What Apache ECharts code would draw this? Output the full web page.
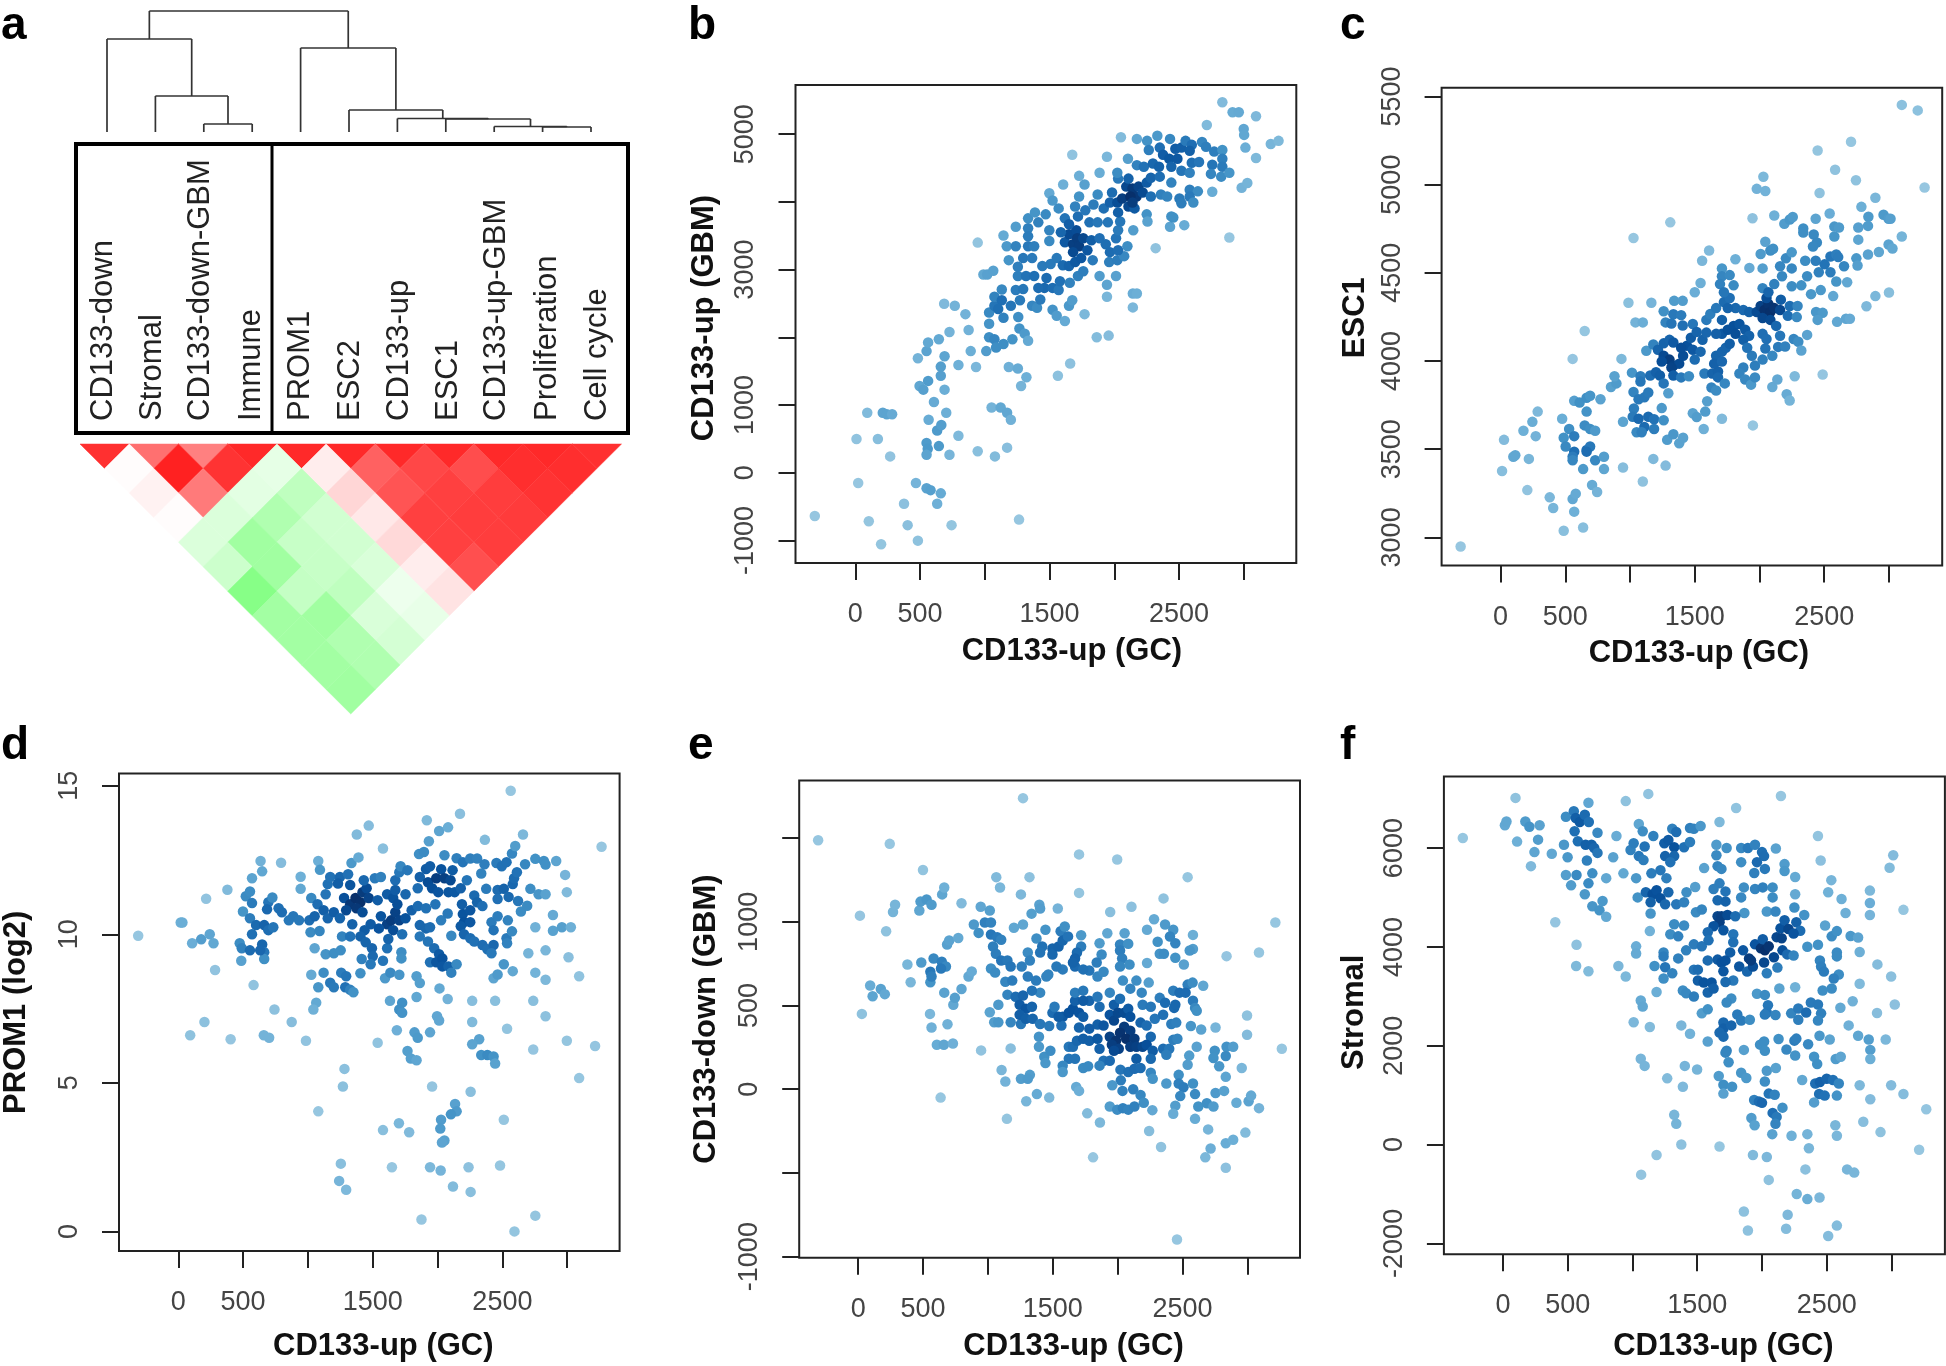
<!DOCTYPE html>
<html><head><meta charset="utf-8">
<style>html,body{margin:0;padding:0;background:#fff}#c{width:1946px;height:1366px}</style>
<script src="https://cdn.jsdelivr.net/npm/echarts@6/dist/echarts.min.js"></script>
</head><body><div id="c"></div>
<script>
const signatures=['CD133-down','Stromal','CD133-down-GBM','Immune','PROM1','ESC2','CD133-up','ESC1','CD133-up-GBM','Proliferation','Cell cycle'];
// [left, right, height]; negative numbers refer to earlier merges (-1 = first merge)
const merges=[[2,3,8],[1,-1,36],[0,-2,93],[9,10,5],[8,-4,5.5],[7,-5,13],[6,-6,13.5],[5,-7,22],[4,-8,84],[-3,-9,121]];
const corrRows=[
[.81,.56,.5,.84,.84,.84,.84,.84,.84,.84,.81],
[.01,.87,.8,-.1,.07,.62,.72,.7,.82,.82],
[.05,.52,-.11,-.25,.16,.67,.75,.76,.8],
[.01,-.14,-.31,-.18,.09,.75,.76,.77],
[-.14,-.37,-.22,-.18,.15,.75,.76],
[-.2,-.37,-.22,-.15,.07,.69],
[-.47,-.23,-.25,-.07,.11],
[-.36,-.37,-.15,-.09],
[-.36,-.31,-.17],
[-.36,-.31],
[-.37]];
const xTicks=[0,500,1000,1500,2000,2500,3000];
const xLabels=[0,500,1500,2500];
const gbmUp=[[-313,-640],[22,-153],[9,499],[174,499],[269,241],[92,886],[212,886],[243,863],[284,863],[104,-716],[199,-1057],[376,-458],[404,-775],[468,-153],[483,-1004],[550,-229],[581,-258],[660,-305],[632,-458],[743,-775],[1264,-693],[550,440],[559,352],[550,264],[645,393],[727,264],[566,781],[632,622],[664,704],[702,886],[607,1045],[796,546],[945,317],[1078,241],[1172,370],[1052,963],[1122,963],[1172,886],[1201,781],[496,1280],[525,1227],[562,1356],[689,1227],[660,1432],[660,1567],[689,1720],[796,1591],[932,1561],[891,1796],[483,1691],[550,1796],[562,1925],[645,1972],[727,2078],[875,2107],[850,2342],[686,2495],[768,2465],[1185,1561],[1255,1538],[1321,1409],[1280,1280],[1564,1432],[1659,1614],[1011,1796],[1033,2002],[1074,1972],[1087,1849],[1144,1902],[1213,1972],[1267,2131],[1308,2054],[1334,1949],[1864,2002],[1956,2025],[1033,2366],[1033,2201],[1074,2465],[1074,2600],[1131,2706],[1131,2548],[1103,2418],[1144,2289],[1201,2465],[1258,2301],[1239,2700],[1296,2712],[1271,2548],[1365,2465],[1403,2436],[1428,2559],[1523,2407],[1555,2319],[1618,2242],[1650,2465],[1675,2548],[1770,2342],[1943,2600],[1943,2777],[2143,2647],[2174,2647],[2143,2442],[1886,2906],[2013,2906],[2319,3317],[2888,3475],[2540,3657],[2430,3634],[2440,3786],[945,3399],[989,2929],[1018,2929],[1065,2982],[1144,3504],[1185,3140],[1169,3346],[1239,3346],[1239,3634],[1334,3757],[1334,3610],[1334,3493],[1334,3346],[1381,3346],[1387,3845],[1413,3698],[1470,3816],[1498,3581],[1498,3422],[1255,3041],[1296,3170],[1365,3170],[1255,2906],[1318,2906],[1381,2906],[1444,3052],[1508,3082],[1555,3170],[1602,3064],[1650,3052],[1697,3111],[1744,3170],[1476,2876],[1460,2730],[1413,2730],[1523,2730],[1570,2700],[1580,2829],[1656,2806],[1719,2906],[1760,2976],[1833,3140],[1618,3405],[1650,3522],[1681,3375],[1706,3581],[1713,3463],[1728,3346],[1681,3258],[1760,3463],[1792,3287],[1823,3434],[1886,3463],[1934,3375],[1966,3258],[1960,3111],[2023,3140],[2076,3199],[2029,3287],[2101,3346],[2013,3463],[2029,3581],[2045,3710],[2146,3581],[1618,3757],[1650,3669],[1587,3552],[1697,3933],[1728,4080],[1719,3786],[1776,3875],[1808,3698],[1871,3698],[1950,3698],[1839,3962],[1871,4109],[1918,3904],[1966,3992],[1982,4138],[2023,3992],[2029,3845],[2061,4050],[2109,3933],[2156,3904],[2092,4226],[2029,4344],[2023,4432],[2109,4344],[2140,4197],[2171,4080],[2187,4226],[2219,4138],[2250,4285],[2282,4080],[2282,4356],[2124,4080],[2140,3992],[1498,4127],[1523,4021],[1570,3904],[1605,4256],[1675,4696],[1728,4385],[1770,4256],[1886,4432],[1943,4667],[2051,4954],[2105,4637],[2174,4931],[2253,4902],[2266,4766],[2332,4978],[2351,4802],[2430,4931],[2174,4543],[2228,4520],[2298,4567],[2345,4520],[2351,4373],[2440,4285],[2360,4109],[2408,4080],[2250,3816],[2256,3710],[2455,3769],[2376,4696],[2424,4637],[2471,4784],[2518,4802],[2487,4637],[2440,4520],[2518,4461],[2582,4432],[2598,4579],[2550,4902],[2598,4843],[2582,4755],[2654,4590],[2677,4884],[2708,4813],[2771,4743],[2834,4766],[2834,4637],[2834,4520],[2756,4549],[2746,4414],[2825,4373],[2888,4432],[2582,4179],[2645,4156],[2503,4050],[2518,3980],[2582,4080],[2610,3992],[2756,4150],[2983,4209],[3027,4279],[2714,5136],[2834,5471],[2913,5324],[2961,5324],[3094,5265],[2999,5078],[3002,4990],[3012,4802],[3094,4649],[3208,4855],[3268,4902]];
const esc1=[[-308,2948],[12,3376],[27,3553],[99,3457],[114,3466],[177,3605],[246,3655],[272,3574],[287,3713],[219,3445],[207,3268],[380,3227],[407,3167],[476,3673],[488,3038],[638,3056],[569,3146],[557,3218],[581,3248],[707,3297],[746,3257],[638,3387],[731,3437],[799,3387],[799,3457],[946,3396],[1180,3445],[1275,3407],[1099,3317],[488,3565],[503,3515],[530,3614],[569,3574],[569,3486],[557,3457],[557,3437],[665,3495],[692,3515],[665,3486],[650,3635],[692,3614],[731,3605],[665,3713],[569,3774],[611,3765],[665,3792],[692,3803],[772,3783],[557,4012],[650,4170],[1027,4697],[1311,4786],[988,4330],[1165,4330],[1042,4219],[1099,4219],[934,4012],[853,3853],[895,3873],[880,3914],[1015,3934],[1081,3914],[1081,3884],[1027,3824],[1066,3783],[1111,3794],[1141,3821],[1030,3731],[946,3655],[1021,3684],[1066,3673],[1141,3684],[1186,3670],[1245,3733],[1260,3664],[1111,3626],[1186,3614],[1051,3596],[1090,3596],[1287,3553],[1335,3585],[1380,3533],[1410,3565],[1156,3918],[1201,3936],[1231,3918],[1260,3873],[1296,3817],[1260,4282],[1341,4341],[1407,4341],[1335,4265],[1395,4260],[1275,4219],[1320,4213],[1407,4201],[1126,4058],[1180,4094],[1216,4064],[1260,4100],[1305,4120],[1335,4105],[1260,4030],[1305,4008],[1335,3974],[1380,3985],[1410,4030],[1440,4087],[1470,4132],[1485,4064],[1395,4075],[1320,3963],[1335,3918],[1395,3907],[1455,3914],[1245,3997],[1500,4008],[1485,4210],[1515,4165],[1560,4120],[1590,4161],[1545,4053],[1575,3929],[1635,3929],[1680,3941],[1680,3907],[1732,3873],[1629,3850],[1665,3833],[1596,3772],[1485,3704],[1515,3682],[1581,3713],[1569,3614],[1710,3673],[1949,3635],[1665,4030],[1710,4053],[1740,4075],[1770,4098],[1650,3985],[1710,3997],[1590,4233],[1620,4267],[1665,4300],[1710,4233],[1710,4154],[1665,4154],[1755,4177],[1800,4199],[1845,4210],[1890,4177],[1920,4143],[1875,4120],[1815,4154],[1725,4334],[1770,4357],[1815,4300],[1875,4289],[1920,4278],[1755,4300],[1875,3963],[1845,3929],[1890,3895],[1935,3866],[1965,3907],[1965,3974],[1941,4030],[1905,4075],[2024,4008],[2099,4030],[2045,4071],[2024,4154],[2054,4125],[2144,4080],[2198,4082],[2264,4125],[2300,4109],[2323,4060],[2368,4148],[2099,3853],[2138,3895],[2272,3914],[2210,3812],[2233,3776],[2488,3923],[1979,4278],[2009,4312],[2039,4289],[2069,4323],[2084,4278],[2054,4357],[2114,4300],[2165,4348],[2024,4244],[2084,4233],[2159,4289],[2129,4199],[2159,4143],[2024,4413],[2069,4390],[2024,4525],[2009,4607],[2045,4676],[2084,4627],[2105,4636],[1922,4528],[1814,4577],[1557,4568],[1611,4627],[1545,4442],[1500,4390],[1710,4525],[1710,4481],[1770,4487],[1695,4436],[1800,4429],[1725,4390],[2114,4436],[2159,4537],[2174,4481],[2249,4525],[2204,4582],[2249,4616],[2249,4424],[2323,4429],[2368,4481],[2353,4568],[2398,4379],[2473,4402],[2434,4568],[2458,4503],[2548,4503],[2503,4548],[2548,4593],[2593,4604],[2608,4589],[2653,4537],[2593,4451],[2677,4447],[2569,4368],[2234,4312],[2294,4312],[2219,4256],[2288,4249],[2437,4278],[2488,4273],[2449,4233],[2599,4222],[2668,4240],[2698,4240],[1946,4809],[1979,4976],[2045,4964],[2030,5045],[2114,4825],[2192,4778],[2234,4802],[2257,4816],[2338,4751],[2338,4728],[2434,4807],[2419,4717],[2443,4672],[2413,4649],[2464,4953],[2449,5194],[2584,5084],[2542,4836],[2578,4762],[2614,4757],[2578,4706],[2707,5243],[2745,5025],[2787,4874],[2841,4818],[2838,4766],[2763,4757],[2763,4688],[2748,4582],[2757,4541],[2838,4604],[2922,4618],[2895,4926],[2958,4829],[2997,4807],[3012,4807],[2997,4661],[3027,4638],[3099,4706],[2895,4368],[2826,4310],[3000,4388],[3099,5452],[3222,5421],[3275,4984]];
const prom1=[[-309,9.95],[19,10.4],[32,10.4],[107,9.7],[177,9.83],[243,10.0],[272,9.7],[215,11.2],[379,11.5],[284,8.8],[92,6.6],[202,7.05],[404,6.47],[660,6.6],[701,6.52],[742,7.47],[875,7.05],[985,6.42],[581,8.29],[474,9.7],[486,9.11],[490,9.53],[553,9.46],[569,10.0],[647,9.66],[663,9.4],[663,9.17],[632,9.46],[499,10.77],[553,10.54],[600,10.31],[663,10.31],[695,10.14],[733,10.24],[521,11.28],[553,11.44],[569,11.05],[569,11.89],[647,12.12],[635,12.47],[793,12.41],[695,11.08],[685,10.84],[726,11.24],[774,10.88],[799,10.74],[853,10.47],[887,10.61],[932,10.47],[944,11.94],[944,11.53],[1011,10.47],[1026,11.22],[1020,10.07],[1052,9.53],[1090,10.11],[1052,10.61],[1080,12.47],[1093,12.17],[1137,11.35],[1153,11.69],[1172,11.93],[1074,11.01],[1121,10.81],[1153,10.54],[1200,10.74],[1247,10.54],[1263,9.93],[1326,9.93],[1342,10.34],[1137,9.33],[1200,9.36],[1253,9.46],[1026,8.64],[1121,8.71],[1080,8.22],[1172,8.37],[1200,8.22],[1257,8.71],[1295,8.59],[1288,8.22],[1326,8.13],[1351,8.05],[1064,7.7],[1042,7.47],[1247,11.93],[1310,12.02],[1326,11.66],[1232,11.71],[1336,12.4],[1390,12.59],[1377,13.36],[1469,13.66],[1415,9.17],[1405,8.69],[1279,11.22],[1326,11.01],[1367,11.22],[1405,11.08],[1421,11.42],[1453,11.55],[1431,11.82],[1469,11.22],[1374,10.88],[1421,10.74],[1295,10.81],[1484,10.34],[1437,10.14],[1405,9.93],[1446,9.73],[1494,9.53],[1500,9.26],[1484,8.99],[1579,9.11],[1611,9.53],[1620,9.84],[1516,11.89],[1563,11.93],[1538,11.15],[1611,11.35],[1658,11.22],[1563,10.61],[1611,10.34],[1658,10.14],[1547,10.2],[1642,10.47],[1674,10.74],[1690,11.01],[1674,11.49],[1674,11.82],[1705,12.09],[1715,12.29],[1768,12.16],[1753,11.35],[1705,10.47],[1753,10.54],[1800,10.81],[1848,10.95],[1911,10.88],[1727,10.0],[1595,8.52],[1636,8.71],[1705,8.64],[1721,9.4],[1721,9.19],[1863,9.93],[1863,10.31],[1911,10.2],[1942,10.24],[1847,11.55],[1863,11.93],[1911,12.2],[1942,12.29],[1857,12.7],[1895,12.77],[1933,13.13],[1917,13.84],[2012,13.48],[2081,13.6],[2053,12.66],[2173,14.06],[2028,12.19],[1579,12.89],[1926,11.75],[1958,11.55],[1990,11.89],[2053,11.89],[2005,11.42],[2100,11.82],[2116,12.16],[2084,11.42],[2132,11.42],[2179,11.55],[2226,11.82],[2147,12.56],[2195,12.43],[2252,12.55],[2305,12.55],[2362,12.36],[2337,12.05],[2375,11.53],[2283,11.31],[2305,11.08],[2346,10.95],[1983,11.01],[2027,10.47],[2078,10.7],[2106,9.95],[2188,11.01],[2195,10.68],[2252,10.81],[2204,10.41],[2252,10.41],[2179,10.27],[2204,10.0],[2252,9.87],[2283,9.76],[2346,9.64],[2384,9.5],[2432,9.64],[2416,9.36],[1926,9.76],[1974,9.53],[2012,9.33],[1942,9.06],[1990,9.06],[2037,9.19],[2037,8.92],[2084,8.92],[2147,8.99],[2106,8.71],[2015,8.18],[2078,7.82],[1838,7.89],[1838,8.59],[1863,8.36],[1633,7.76],[1727,7.7],[1705,7.47],[1727,7.36],[1996,7.24],[2012,7.1],[2267,7.76],[2444,7.76],[2738,7.76],[2833,7.24],[2267,7.05],[1686,6.77],[1822,6.7],[1847,6.52],[1942,6.7],[2536,6.82],[1538,6.35],[2321,6.47],[2267,6.3],[2337,5.94],[2384,5.94],[2432,5.89],[2444,5.65],[1768,6.07],[1794,5.82],[1838,5.76],[2738,6.12],[2997,6.42],[3215,6.24],[3092,5.16],[1958,4.88],[2255,4.7],[2135,4.29],[2147,4.04],[2103,3.94],[2027,3.76],[2021,3.46],[2511,3.76],[2053,3.06],[2034,2.99],[1579,3.41],[1702,3.64],[1781,3.34],[1080,4.04],[1282,5.47],[1270,4.88],[1254,2.28],[1241,1.7],[1295,1.4],[1648,2.16],[1942,2.16],[2024,2.05],[2239,2.16],[2482,2.22],[2119,1.51],[2255,1.33],[1876,.4],[2754,.53],[2593,0],[2463,11.49],[2463,11.19],[2511,11.53],[2454,12.4],[2495,12.29],[2532,12.43],[2416,10.41],[2463,10.61],[2432,10.14],[2542,10.47],[2532,9.87],[2536,9.7],[2574,10.1],[2548,11.26],[2621,11.12],[2580,11.69],[2590,11.89],[2612,12.09],[2574,12.72],[2599,12.97],[2659,13.36],[2564,14.83],[2365,13.18],[2675,12.36],[2754,12.54],[2820,12.47],[2833,12.35],[2915,12.47],[2984,12.0],[2716,11.53],[2779,11.35],[2833,11.35],[2997,11.42],[2643,10.77],[2691,10.96],[2890,10.65],[2754,10.24],[2890,10.12],[2959,10.24],[3028,10.24],[2700,9.36],[2833,9.46],[3010,9.23],[2511,8.99],[2580,8.76],[2754,8.71],[2833,8.47],[3092,8.59],[2432,8.52],[2463,8.65],[3265,12.95]];
const gbmDown=[[-309,1487],[243,1466],[1270,1739],[499,1310],[13,1037],[28,450],[92,620],[111,556],[174,599],[205,568],[215,944],[268,1059],[284,1102],[379,745],[404,639],[471,1068],[480,1121],[527,1133],[565,1102],[647,1164],[663,1205],[486,757],[556,702],[556,639],[565,673],[581,781],[644,762],[676,733],[638,721],[553,450],[565,369],[688,388],[606,266],[660,266],[730,273],[663,577],[733,505],[745,546],[796,599],[635,-50],[685,865],[701,889],[771,903],[796,1111],[850,673],[875,704],[891,984],[928,934],[944,1090],[947,232],[976,996],[1023,996],[1014,1068],[1014,460],[1048,400],[1080,400],[1080,505],[1175,400],[1254,390],[1175,244],[1105,115],[1134,46],[1254,62],[1323,86],[1307,62],[1146,-177],[1295,-72],[1377,-29],[1472,-50],[1064,1267],[1320,1267],[1093,1205],[1254,1164],[1336,1049],[1396,1102],[1402,1080],[1538,1080],[1200,965],[1270,984],[1443,953],[1374,901],[1023,924],[1071,908],[1102,893],[1039,853],[1061,809],[1102,769],[1150,769],[1175,733],[1023,721],[1055,697],[1260,733],[1307,673],[1371,649],[1402,577],[1339,589],[1450,673],[1465,685],[1134,642],[1187,649],[1150,565],[1213,553],[1270,560],[1307,817],[1323,769],[1418,853],[1402,817],[1244,505],[1292,481],[1339,493],[1244,445],[1292,421],[1345,421],[1402,390],[1472,378],[1393,314],[1393,254],[1434,194],[1443,156],[1481,230],[1497,457],[1513,493],[1576,433],[1566,381],[1544,433],[1623,457],[1655,481],[1671,529],[1671,577],[1734,589],[1781,529],[1734,529],[1702,457],[1734,433],[1702,369],[1860,493],[1844,553],[1939,577],[1497,841],[1497,805],[1544,853],[1560,944],[1576,889],[1592,972],[1617,913],[1718,920],[1718,853],[1686,817],[1671,781],[1671,733],[1655,757],[1576,716],[1528,733],[1702,1403],[1996,1372],[1702,1173],[2539,1267],[2353,1140],[2106,1090],[1942,1059],[1920,932],[1860,872],[1876,805],[1838,757],[1781,709],[1734,716],[1844,673],[1891,702],[2018,865],[2081,869],[2018,829],[2034,781],[2018,733],[2091,745],[2053,932],[2226,953],[2280,1015],[2365,984],[2428,953],[2403,912],[2444,872],[2308,881],[2324,809],[2356,809],[2444,786],[2226,754],[2510,745],[2580,922],[2580,838],[2555,829],[2040,649],[2097,601],[2144,649],[2185,577],[2239,637],[2659,618],[2428,589],[2476,577],[2539,625],[2523,577],[2577,637],[2324,546],[2365,517],[2580,529],[2596,486],[2609,469],[2435,486],[2444,505],[2192,505],[2255,493],[2286,421],[2350,445],[2176,398],[2223,381],[2413,390],[2451,398],[2564,378],[2643,357],[2754,369],[2997,441],[2997,326],[3265,242],[1971,505],[2018,541],[1939,445],[1971,410],[2002,457],[2050,457],[2081,481],[2097,433],[2050,374],[2097,350],[2018,338],[1939,314],[1987,290],[1955,266],[2008,242],[1971,230],[2065,302],[2129,302],[2097,254],[2144,254],[2192,254],[2255,314],[2223,266],[2270,230],[2255,182],[2144,182],[1844,386],[1781,362],[1891,381],[1623,254],[1655,254],[1686,290],[1734,302],[1781,290],[1844,302],[1860,242],[1891,170],[1860,141],[1939,170],[1623,182],[1671,182],[1576,141],[1576,103],[1734,127],[1772,137],[1680,14],[1702,-10],[1765,-144],[1863,-199],[1810,-407],[2021,117],[2081,103],[2129,122],[2176,127],[2024,53],[1958,24],[2037,-10],[2119,0],[2176,-34],[2201,-81],[1939,-103],[1996,-122],[2040,-113],[2081,-122],[2129,-103],[2267,-125],[2255,98],[2270,62],[2375,34],[2350,242],[2397,242],[2375,206],[2428,295],[2460,302],[2470,86],[2470,34],[2507,12],[2580,34],[2482,-41],[2596,-29],[2444,-98],[2428,-146],[2242,-249],[2334,-345],[2596,-177],[2621,-103],[2687,-84],[2738,-103],[2697,-240],[2675,-407],[2716,-354],[2833,-323],[2890,-302],[2984,-259],[2833,-469],[2457,-898],[2539,146],[2551,201],[2609,254],[2748,230],[2738,187],[2782,137],[2833,74],[2839,254],[2833,199],[2890,254],[2956,127],[2754,-22],[2820,-10],[2915,-81],[3009,-72],[3028,-38],[3089,-113],[2839,795],[3089,817],[3215,996]];
const stromal=[[-310,6204],[97,7016],[15,6464],[27,6537],[109,6131],[173,6537],[204,6431],[283,6464],[271,6171],[243,5919],[216,5635],[377,5887],[404,4498],[568,4044],[565,3613],[660,3508],[486,6634],[547,6748],[562,6610],[593,6528],[632,6675],[663,6528],[553,6342],[660,6918],[471,6066],[499,5814],[578,6139],[638,6066],[684,6066],[705,6001],[730,5903],[730,6309],[648,5749],[486,5457],[568,5457],[690,5489],[526,5246],[660,5286],[632,5067],[797,5392],[690,4823],[745,4742],[769,4929],[797,4612],[851,5814],[876,6244],[930,5489],[948,6951],[1122,7097],[891,3613],[948,3402],[985,5960],[1009,6098],[1049,6488],[1079,6342],[1094,6033],[1049,5838],[1085,5757],[1161,6244],[1028,5392],[1040,5002],[1146,5489],[1216,5554],[1262,5392],[1246,6098],[1277,6163],[1307,6390],[1338,6326],[1322,6017],[1252,5838],[1322,5838],[1292,5716],[1398,6017],[1444,6122],[1444,6407],[1474,6390],[1526,6447],[1103,5107],[1155,5067],[1186,5148],[1216,4986],[1277,5107],[1140,4904],[1140,4677],[1252,4864],[1338,4864],[1398,4904],[1417,5107],[1134,4320],[1484,5213],[1322,4458],[1292,4255],[1353,4214],[1398,4434],[1028,4011],[1028,3865],[1240,3889],[1240,3808],[1170,3613],[1252,3589],[1240,3362],[1307,3467],[1186,3086],[1353,3768],[1414,3930],[1474,4052],[1535,4011],[1581,3727],[1474,3540],[1505,3540],[1389,3118],[1414,3061],[1474,2996],[1505,3321],[1550,3280],[1611,3280],[1581,3078],[1626,3159],[1490,4701],[1535,4758],[1553,5595],[1648,6066],[1727,6001],[1648,5855],[1672,6529],[1657,5635],[1687,5579],[1839,6001],[1891,6001],[1946,6066],[2000,5919],[2016,5838],[2107,5993],[1839,5716],[1961,5716],[1940,5497],[2022,5579],[2174,5676],[2174,5538],[2256,5416],[1800,6812],[2146,7056],[2432,6244],[2453,5749],[3013,5855],[2985,5603],[2535,5351],[2511,5107],[2614,4970],[2833,5140],[2833,4888],[2833,4645],[3092,4750],[2645,4685],[1672,5286],[1626,5172],[1657,4945],[1718,5124],[1718,4921],[1839,5002],[1860,5205],[1946,5172],[2006,5205],[2082,5205],[2082,5002],[2256,5067],[2250,4799],[2037,4718],[2104,4718],[1864,4685],[2326,4645],[1657,4620],[1687,4620],[1733,4645],[1794,4620],[1672,4498],[1626,4417],[1581,4296],[1587,4133],[1702,4336],[1778,4255],[1778,4093],[1754,3889],[1657,3743],[1687,3686],[1718,3727],[1702,3508],[1824,3605],[1885,3500],[1854,3930],[1900,3768],[1930,3605],[1915,3727],[1946,4052],[1991,3971],[2022,3930],[2006,4157],[2052,4011],[2016,3686],[2037,3467],[2092,3792],[2158,3930],[2119,3581],[2195,3849],[2244,3825],[2113,4198],[2143,4377],[2174,4539],[2204,4361],[2152,4174],[2265,4498],[2295,4328],[2244,4271],[2350,4003],[2432,4044],[2487,4434],[2538,4214],[2578,4320],[2684,4222],[2742,4190],[2754,3898],[2578,3889],[2578,3808],[2447,3727],[2456,3605],[2478,3500],[2891,3646],[2997,3402],[2593,3443],[2554,3362],[2538,3159],[2468,3118],[2754,3256],[2700,2899],[2605,2769],[3025,2834],[2888,2663],[2669,2412],[2742,2201],[2134,3159],[2256,3183],[1961,3053],[2022,3029],[1778,3321],[1718,3289],[1763,2956],[1727,2875],[2046,2818],[2037,2672],[2022,2631],[2104,2623],[2225,2655],[2280,2753],[2280,2525],[2341,2672],[2377,2875],[2432,2834],[2456,2655],[2432,2509],[1535,2655],[1581,2736],[1064,2915],[1079,2793],[1009,2477],[1134,2379],[1377,2412],[1444,2241],[1581,2087],[1702,2469],[1702,2347],[1672,2266],[1702,2184],[1763,2412],[1809,2631],[1839,2509],[1906,2525],[1727,1900],[1718,1860],[1860,1916],[1742,1665],[1985,2022],[2016,2087],[2022,1900],[2128,2136],[2250,2103],[2265,2144],[2189,1924],[2256,1803],[2356,2030],[2444,2201],[2523,2127],[2402,1778],[2426,1632],[2569,1730],[2608,1778],[2824,2127],[2955,2127],[2836,1916],[2836,1730],[1064,1738],[1094,1592],[1404,1592],[1499,1518],[1268,1340],[1389,1169],[1666,1389],[1702,1210],[1702,1031],[1769,1169],[1839,1454],[1879,1348],[2037,1494],[2107,1551],[2022,1275],[2310,1307],[2411,1234],[2447,1267],[2499,1332],[2548,1307],[2593,1234],[2441,1023],[2484,991],[2578,991],[2754,1202],[2997,1202],[2836,918],[3092,1023],[2402,853],[1939,901],[1976,869],[2000,844],[2052,1031],[2098,1007],[2158,747],[2082,641],[2113,560],[2104,422],[1918,536],[1943,390],[2079,211],[2228,179],[2350,211],[2566,390],[2578,179],[2782,463],[2915,252],[3268,715],[1322,601],[1338,422],[1377,0],[1672,-41],[3213,-106],[2362,-73],[1930,-211],[2037,-252],[1186,-211],[1067,-609],[2335,-503],[2052,-715],[2657,-503],[2712,-568],[2268,-999],[2350,-1104],[2444,-1072],[1860,-1356],[2198,-1421],[1891,-1738],[2186,-1705],[2578,-1640],[2511,-1851]];

const FONT='"Liberation Sans",Arial,sans-serif';
const RAMP=[[150,198,224],[107,174,214],[66,146,198],[33,113,181],[8,81,156],[8,48,107]];
function densityColors(pts,pxX,pxY){
  const s2=2*11*11;
  const d=pts.map(p=>pts.reduce((a,q)=>{const dx=(p[0]-q[0])*pxX,dy=(p[1]-q[1])*pxY;return a+Math.exp(-(dx*dx+dy*dy)/s2);},0));
  const mx=Math.max(...d),mn=Math.min(...d);
  return d.map(v=>{
    const t=Math.pow((v-mn)/(mx-mn),.95)*(RAMP.length-1),i=Math.min(Math.floor(t),RAMP.length-2),f=t-i;
    const c=RAMP[i].map((a,k)=>Math.round(a+(RAMP[i+1][k]-a)*f));
    return `rgb(${c[0]},${c[1]},${c[2]})`;
  });
}
// frame [left,top,right,bottom], x range, y range, y ticks, y labels
const panels=[
{d:gbmUp,name:'CD133-up (GBM)',f:[795.5,85,1296.3,563],xr:[-462,3405],yr:[-1334,5727],yt:[-1000,0,1000,2000,3000,4000,5000],yl:[-1000,0,1000,3000,5000],xg:73,xs:26,yg:76,ys:6},
{d:esc1,name:'ESC1',f:[1441.6,87.8,1942.2,565.6],xr:[-455,3411],yr:[2840,5549],yt:[3000,3500,4000,4500,5000,5500],yl:[3000,3500,4000,4500,5000,5500],xg:72,xs:7,yg:71,ys:9},
{d:prom1,name:'PROM1 (log2)',f:[118.8,773.6,619.6,1251],xr:[-457,3404],yr:[-.66,15.41],yt:[0,5,10,15],yl:[0,5,10,15],xg:80,xs:14,yg:87,ys:0},
{d:gbmDown,name:'CD133-down (GBM)',f:[799.2,780.4,1300,1257.8],xr:[-455,3405],yr:[-1007,1845],yt:[-1000,-500,0,500,1000,1500],yl:[-1000,0,500,1000],xg:73,xs:24,yg:77,ys:0},
{d:stromal,name:'Stromal',f:[1443.9,776.4,1944.9,1254.2],xr:[-456,3412],yr:[-2219,7451],yt:[-2000,0,2000,4000,6000],yl:[-2000,0,2000,4000,6000],xg:77,xs:29,yg:74,ys:3}
];
const grids=[],xAxes=[],yAxes=[],series=[];
// panel a: dendrogram grid and heatmap grid
grids.push({left:107,top:11,width:484,height:121});
xAxes.push({type:'value',min:0,max:10,show:false,gridIndex:0});
yAxes.push({type:'value',min:0,max:121,show:false,gridIndex:0});
grids.push({left:80,top:444,width:541.5,height:270});
xAxes.push({type:'value',min:0,max:11,show:false,gridIndex:1});
yAxes.push({type:'value',min:0,max:11,inverse:true,show:false,gridIndex:1});
const segs=[],pos=[];
merges.forEach(([l,r,h])=>{
  const get=v=>v>=0?[v,0]:pos[-v-1];
  const a=get(l),b=get(r);
  segs.push([a[0],a[1],a[0],h],[b[0],b[1],b[0],h],[a[0],h,b[0],h]);
  pos.push([(a[0]+b[0])/2,h]);
});
series.push({type:'custom',xAxisIndex:0,yAxisIndex:0,silent:true,data:segs,clip:false,
  renderItem(p,api){const a=api.coord([api.value(0),api.value(1)]),b=api.coord([api.value(2),api.value(3)]);
    return {type:'line',shape:{x1:a[0],y1:a[1],x2:b[0],y2:b[1]},style:{stroke:'#333',lineWidth:1.7}};}});
const cells=[];
corrRows.forEach((row,k)=>row.forEach((v,i)=>cells.push([i,k,v])));
series.push({type:'custom',xAxisIndex:1,yAxisIndex:1,silent:true,data:cells,clip:false,
  renderItem(p,api){const i=api.value(0),k=api.value(1),v=api.value(2),cx=i+.5+k*.5;
    const P=(x,y)=>api.coord([x,y]);
    const pts=k===0?[P(cx-.5,0),P(cx+.5,0),P(cx,1)]:[P(cx,k-1),P(cx+.5,k),P(cx,k+1),P(cx-.5,k)];
    const c=Math.round(255*(1-Math.abs(v)));
    const col=v>=0?`rgb(255,${c},${c})`:`rgb(${c},255,${c})`;
    return {type:'polygon',shape:{points:pts},style:{fill:col,stroke:col,lineWidth:.5}};}});
panels.forEach((p,n)=>{
  const g=n+2,[l,t,r,b]=p.f;
  grids.push({left:l,top:t,width:r-l,height:b-t,show:true,borderColor:'#222',borderWidth:2,backgroundColor:'#fff',containLabel:false});
  const lab={color:'#444',fontFamily:FONT,fontSize:27};
  xAxes.push({type:'value',gridIndex:g,min:p.xr[0],max:p.xr[1],splitLine:{show:false},axisLine:{show:false,onZero:false},
    axisTick:{length:17,lineStyle:{color:'#222',width:2},customValues:xTicks},
    axisLabel:{...lab,margin:38,customValues:xLabels,formatter:v=>String(v)},
    name:'CD133-up (GC)',nameLocation:'middle',nameGap:p.xg,
    nameTextStyle:{fontFamily:FONT,fontSize:31,fontWeight:'bold',color:'#111',padding:[0,0,0,2*p.xs]}});
  yAxes.push({type:'value',gridIndex:g,min:p.yr[0],max:p.yr[1],splitLine:{show:false},axisLine:{show:false,onZero:false},
    axisTick:{length:17,lineStyle:{color:'#222',width:2},customValues:p.yt},
    axisLabel:{...lab,margin:36,rotate:90,customValues:p.yl,formatter:v=>String(v)},
    name:p.name,nameLocation:'middle',nameGap:p.yg,
    nameTextStyle:{fontFamily:FONT,fontSize:31,fontWeight:'bold',color:'#111',padding:[0,0,0,2*p.ys]}});
  const cols=densityColors(p.d,(r-l)/(p.xr[1]-p.xr[0]),(b-t)/(p.yr[1]-p.yr[0]));
  series.push({type:'scatter',xAxisIndex:g,yAxisIndex:g,data:p.d,symbolSize:10.5,silent:true,
    itemStyle:{opacity:1,color:q=>cols[q.dataIndex]}});
});
const letters=[['a',1,49],['b',688,49],['c',1340,49],['d',1,769],['e',688,769],['f',1340,769]];
const labelX=[103,152.5,200.5,251,300,350,399,448,496.5,547,597];
const graphic=[
  {type:'rect',shape:{x:76,y:144,width:552,height:289},style:{fill:'none',stroke:'#000',lineWidth:4}},
  {type:'line',shape:{x1:272,y1:144,x2:272,y2:433},style:{stroke:'#000',lineWidth:3}},
  ...signatures.map((s,i)=>({type:'text',x:labelX[i],y:421,rotation:Math.PI/2,
    style:{text:s,x:0,y:0,align:'left',verticalAlign:'middle',font:'31px '+FONT,fill:'#222'}})),
  ...letters.map(([s,x,y])=>({type:'text',x,y,
    style:{text:s,x:0,y:0,align:'left',verticalAlign:'bottom',font:'bold 46px '+FONT,fill:'#000'}}))
];
echarts.init(document.getElementById('c'),null,{renderer:'canvas'}).setOption({
  animation:false,backgroundColor:'#fff',grid:grids,xAxis:xAxes,yAxis:yAxes,series,graphic,tooltip:{show:false}
});
</script></body></html>
